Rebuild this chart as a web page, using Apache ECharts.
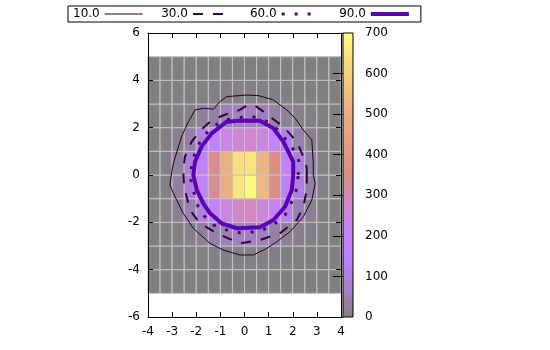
<!DOCTYPE html>
<html>
<head>
<meta charset="utf-8">
<script src="https://cdn.jsdelivr.net/npm/echarts@6/dist/echarts.min.js"></script>
<style>html,body{margin:0;padding:0;background:#fff}#c{width:550px;height:350px}</style>
</head>
<body>
<div id="c"></div>
<script>
// ---- data ----
const xCenters = [-3.75,-3.25,-2.75,-2.25,-1.75,-1.25,-0.75,-0.25,0.25,0.75,1.25,1.75,2.25,2.75,3.25,3.75];
const yCenters = [-4.5,-3.5,-2.5,-1.5,-0.5,0.5,1.5,2.5,3.5,4.5];
const rowYm45 = [0,0,0,0,0,0,0,0,0,0,0,0,0,0,0,0];
const rowYm35 = [0,0,0,1,2,4,6,7,7,6,4,2,1,0,0,0];
const rowYm25 = [0,1,4,11,24,38,50,58,58,50,38,24,11,4,1,0];
const rowYm15 = [0,3,15,45,100,170,245,285,290,255,205,115,45,16,3,0];
const rowYm05 = [1,6,32,88,180,330,500,650,690,530,345,185,95,32,7,1];
const rowYp05 = [1,5,30,90,185,340,510,635,645,520,350,190,92,30,6,1];
const rowYp15 = [0,3,14,38,105,175,240,270,275,250,200,110,40,14,3,0];
const rowYp25 = [0,1,4,10,22,38,52,60,60,52,38,22,10,4,1,0];
const rowYp35 = [0,0,0,1,2,4,6,7,7,6,4,2,1,0,0,0];
const rowYp45 = [0,0,0,0,0,0,0,0,0,0,0,0,0,0,0,0];
const heatRows = [rowYm45,rowYm35,rowYm25,rowYm15,rowYm05,rowYp05,rowYp15,rowYp25,rowYp35,rowYp45];

const contourLevels = ['10.0','30.0','60.0','90.0'];
const contour10 = [[2.85,0],[2.85,0.5],[2.79,1.48],[2.44,1.9],[2.1,2.4],[1.75,2.75],[1.2,3.17],[0.6,3.35],[0.09,3.38],[-0.74,3.31],[-1.02,3.1],[-1.29,2.78],[-1.71,2.82],[-2.05,2.75],[-2.35,2.2],[-2.61,1.62],[-2.95,0.49],[-3.02,0.1],[-3.09,-0.42],[-2.95,-0.77],[-2.54,-1.62],[-2.12,-2.25],[-1.43,-2.89],[-0.88,-3.17],[-0.19,-3.38],[0.37,-3.38],[0.92,-3.1],[1.34,-2.82],[1.89,-2.39],[2.44,-1.76],[2.79,-1.06],[2.93,-0.35],[2.85,0]];
const contour30 = [[2.58,0],[2.58,0.3],[2.44,0.77],[2.17,1.41],[1.61,2.04],[1.06,2.46],[0.5,2.89],[0.16,2.98],[-0.19,2.75],[-0.67,2.6],[-1.02,2.46],[-1.43,2.25],[-1.85,1.85],[-2.19,1.41],[-2.47,0.77],[-2.54,0.21],[-2.5,-0.5],[-2.26,-1.48],[-1.85,-2.04],[-1.15,-2.46],[-0.19,-2.89],[0.64,-2.75],[1.47,-2.46],[2.17,-1.9],[2.44,-1.34],[2.58,-0.63],[2.58,0]];
const contour60 = [[2.23,0],[2.25,0.6],[2.1,0.98],[1.68,1.55],[1.2,2.11],[0.64,2.4],[0.16,2.49],[-0.32,2.4],[-0.88,2.32],[-1.35,2.0],[-1.78,1.55],[-2.05,0.92],[-2.19,0.49],[-2.23,-0.14],[-2.19,-0.42],[-1.92,-1.34],[-1.71,-1.69],[-1.29,-2.11],[-0.74,-2.32],[-0.19,-2.44],[0.64,-2.39],[1.27,-2.04],[1.68,-1.69],[1.96,-1.13],[2.17,-0.56],[2.23,0]];
const contour90 = [[2.02,0],[2.02,0.56],[1.61,1.41],[1.2,1.97],[0.64,2.29],[-0.1,2.3],[-0.74,2.25],[-1.36,1.76],[-1.78,1.2],[-2.05,0.56],[-2.12,0],[-1.98,-0.63],[-1.71,-1.2],[-1.43,-1.62],[-0.95,-2.04],[-0.32,-2.25],[0.64,-2.21],[1.2,-1.9],[1.68,-1.34],[1.96,-0.63],[2.02,0]];

const xTicks = [-4,-3,-2,-1,0,1,2,3,4];
const yTicks = [-6,-4,-2,0,2,4,6];
const cbTicks = [0,100,200,300,400,500,600,700];

// palette (gnuplot default 7,5,15 at 50% over white)
const palette = ['#808080','#a880ca','#b981f9','#c583f9','#d088ca','#da8f80','#e29b80','#eaab80','#f2c180','#f8dc80','#ffff80'];
const contourColors = ['#1e0017','#350044','#4b0083','#5b01b8'];

// ---- build ----
const heatData = [];
yCenters.forEach((y, j) => xCenters.forEach((x, i) => heatData.push([x, y, heatRows[j][i]])));

const FONT = 'DejaVu Sans';
const chart = echarts.init(document.getElementById('c'), null, {renderer: 'canvas'});

const cellW = xCenters[1] - xCenters[0];
const cellH = yCenters[1] - yCenters[0];

function axisCommon(extra) {
  return Object.assign({
    type: 'value', z: 10,
    axisLine: {show: true, onZero: false, lineStyle: {color: '#000', width: 1}},
    axisTick: {show: true, inside: true, length: 5, lineStyle: {color: '#000', width: 1}},
    axisLabel: {color: '#000', fontSize: 12, fontFamily: FONT},
    splitLine: {show: false}
  }, extra);
}

const option = {
  animation: false,
  backgroundColor: '#fff',
  grid: [
    {left: 148, top: 33, width: 193, height: 284, containLabel: false},
    {left: 343, top: 33, width: 10, height: 284, containLabel: false}
  ],
  legend: {
    data: contourLevels,
    top: 6, left: 68,
    align: 'right',
    itemWidth: 38, itemHeight: 12, itemGap: 18,
    padding: [2, 10, 2, 5],
    borderColor: '#000', borderWidth: 1, borderRadius: 0,
    itemStyle: {opacity: 0},
    lineStyle: {width: 'inherit', type: 'inherit', cap: 'butt'},
    textStyle: {color: '#000', fontSize: 12, fontFamily: FONT},
    selectedMode: false
  },
  visualMap: {
    type: 'continuous', show: false, min: cbTicks[0], max: cbTicks[cbTicks.length - 1],
    dimension: 2, seriesIndex: 0,
    inRange: {color: palette}
  },
  xAxis: [
    axisCommon({gridIndex: 0, min: xTicks[0], max: xTicks[xTicks.length-1], interval: 1, position: 'bottom', axisLabel: {color: '#000', fontSize: 12, fontFamily: FONT, margin: 9}}),
    axisCommon({gridIndex: 0, min: xTicks[0], max: xTicks[xTicks.length-1], interval: 1, position: 'top', axisLabel: {show: false}}),
    {type: 'value', gridIndex: 1, min: 0, max: 1, show: false}
  ],
  yAxis: [
    axisCommon({gridIndex: 0, min: yTicks[0], max: yTicks[yTicks.length-1], interval: 2, position: 'left', axisLabel: {color: '#000', fontSize: 12, fontFamily: FONT, margin: 8}}),
    axisCommon({gridIndex: 0, min: yTicks[0], max: yTicks[yTicks.length-1], interval: 2, position: 'right', axisLabel: {show: false}}),
    axisCommon({gridIndex: 1, min: cbTicks[0], max: cbTicks[cbTicks.length-1], interval: 100, position: 'right',
      axisLine: {show: false},
      axisTick: {show: true, inside: true, length: 10, lineStyle: {color: '#000', width: 1}},
      axisLabel: {color: '#000', fontSize: 12, fontFamily: FONT, margin: 12}})
  ],
  series: [
    {
      type: 'custom', name: 'heat', xAxisIndex: 0, yAxisIndex: 0, z: 2,
      data: heatData,
      encode: {x: 0, y: 1},
      renderItem: function (params, api) {
        const c = api.coord([api.value(0) - cellW / 2, api.value(1) + cellH / 2]);
        const s = api.size([cellW, cellH]);
        return {type: 'rect', shape: {x: c[0], y: c[1], width: s[0], height: s[1]},
          style: {fill: api.visual('color'), stroke: '#c4c4c4', lineWidth: 1}};
      }
    },
    {
      type: 'custom', name: 'colorbar', xAxisIndex: 2, yAxisIndex: 2, z: 2,
      data: [[0, cbTicks[0], 1, cbTicks[cbTicks.length - 1]]],
      renderItem: function (params, api) {
        const p0 = api.coord([api.value(0), api.value(3)]);
        const p1 = api.coord([api.value(2), api.value(1)]);
        const stops = palette.map((col, k) => ({offset: k / (palette.length - 1), color: col}));
        return {type: 'rect', shape: {x: p0[0], y: p0[1], width: p1[0] - p0[0], height: p1[1] - p0[1]},
          style: {fill: {type: 'linear', x: 0, y: 1, x2: 0, y2: 0, colorStops: stops}, stroke: '#000', lineWidth: 1}};
      }
    },
    {type: 'line', name: contourLevels[0], data: contour10, xAxisIndex: 0, yAxisIndex: 0, z: 4, symbol: 'none',
      itemStyle: {color: contourColors[0]}, lineStyle: {color: contourColors[0], width: 1}},
    {type: 'line', name: contourLevels[1], data: contour30, xAxisIndex: 0, yAxisIndex: 0, z: 4, symbol: 'none',
      itemStyle: {color: contourColors[1]}, lineStyle: {color: contourColors[1], width: 2, type: [10, 10], cap: 'butt'}},
    {type: 'line', name: contourLevels[2], data: contour60, xAxisIndex: 0, yAxisIndex: 0, z: 4, symbol: 'none',
      itemStyle: {color: contourColors[2]}, lineStyle: {color: contourColors[2], width: 3, type: [3, 10], cap: 'butt'}},
    {type: 'line', name: contourLevels[3], data: contour90, xAxisIndex: 0, yAxisIndex: 0, z: 4, symbol: 'none',
      itemStyle: {color: contourColors[3]}, lineStyle: {color: contourColors[3], width: 4, join: 'round'}}
  ]
};
chart.setOption(option);
</script>
</body>
</html>
